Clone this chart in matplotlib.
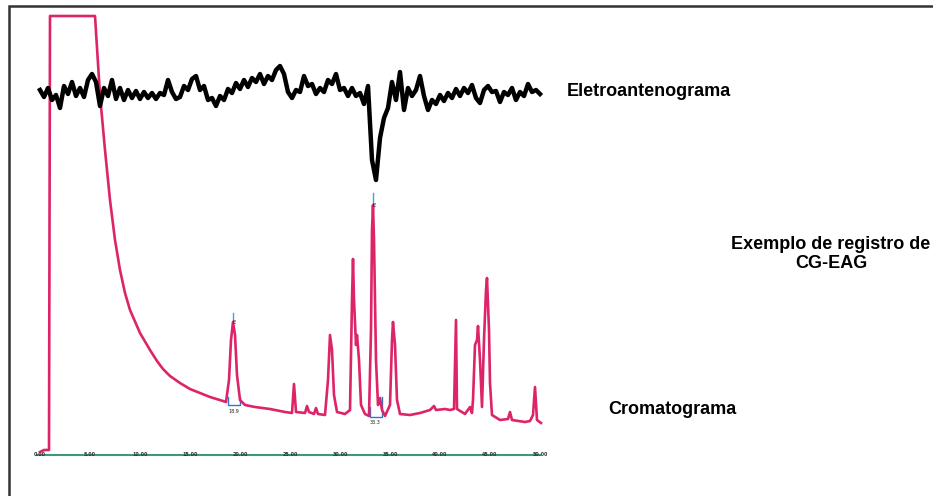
import numpy as np
import matplotlib as mpl
mpl.use('Agg')
import matplotlib.pyplot as plt
from matplotlib.patches import Rectangle

# chromatogram (FID): retention time / min and detector response (arb. units)
gc_time = [0.0, 0.4, 0.9, 1.0, 5.5, 6.0, 6.5, 7.0, 7.5, 8.0, 8.5, 9.0, 10.0, 11.0,
           11.7, 12.3, 13.0, 14.0, 15.0, 16.0, 17.0, 18.3, 18.6, 18.9, 19.1, 19.3,
           19.5, 19.7, 20.0, 20.5,
           21.5, 23.0, 24.5, 25.2, 25.4, 25.6, 26.5, 26.7, 26.9, 27.4, 27.6, 27.8,
           28.5, 28.8, 29.0, 29.2, 29.4, 29.7, 30.5, 31.0, 31.2, 31.3, 31.4, 31.6,
           31.7, 31.9, 32.1, 32.5, 32.9, 33.1, 33.2, 33.3, 33.4, 33.6, 33.8, 34.0,
           34.2, 34.5, 35.0, 35.2, 35.3, 35.5, 35.7, 36.0, 37.0, 38.0, 39.0, 39.4,
           39.6, 40.5, 41.0, 41.4, 41.6, 41.7, 42.5, 43.0, 43.2, 43.3, 43.5, 43.7,
           43.8, 44.0, 44.2, 44.4, 44.6, 44.7, 44.9, 45.0, 45.2, 46.0, 46.8, 47.0,
           47.2, 48.5, 49.0, 49.3, 49.5, 49.7, 50.1]
gc_resp = [3, 5, 5, 439, 439, 360, 305, 255, 215, 185, 162, 145, 122, 105,
           94, 86, 79, 72, 66, 62, 58, 54, 53, 75, 115, 133,
           120, 80, 55, 50,
           48, 46, 43, 42, 71, 43, 42, 49, 43, 41, 47, 41,
           40, 75, 120, 105, 60, 43, 41, 45, 155, 196, 155, 110,
           120, 95, 50, 41, 39, 125, 225, 250, 215, 95, 50, 57,
           45, 39, 50, 115, 133, 110, 55, 41, 40, 42, 45, 49,
           45, 46, 45, 46, 135, 46, 41, 48, 42, 55, 110, 115,
           129, 95, 48, 115, 165, 177, 125, 72, 40, 35, 36, 43,
           35, 33, 34, 40, 68, 35, 32]

# electroantennogram (EAD), sampled every 0.4 min, arb. units
eag_resp = [3, -4, 5, -7, -2, -15, 7, -1, 11, -3,
            5, -4, 13, 19, 11, -13, 5, -3, 13, -6,
            5, -7, 3, -5, 2, -6, 1, -5, 0, -6,
            0, -2, 13, 1, -6, -4, 7, 3, 14, 17,
            3, 7, -7, -5, -13, -3, -7, 4, 0, 10,
            4, 13, 6, 15, 11, 19, 9, 17, 13, 23,
            27, 19, 1, -5, 3, 1, 17, 7, 9, -1,
            5, 1, 13, 9, 19, 3, 5, -3, 5, -3,
            0, -11, 7, -67, -87, -45, -25, -15, 11, -7,
            21, -17, 5, -3, 3, 17, -3, -17, -7, -11,
            -2, -8, 0, -5, 4, -3, 5, 0, 8, -5,
            -10, 3, 7, 1, 2, -9, 1, -2, 5, -7,
            1, -3, 9, 1, 3, -1]
eag_time = 0.4 * np.arange(len(eag_resp))

tick_vals = [0, 5, 10, 15, 20, 25, 30, 35, 40, 45, 50]
tick_labels = ["%.2f" % v for v in tick_vals]

pink = '#DE2468'

fig = plt.figure(figsize=(9.33, 4.96), dpi=100)
ax = fig.add_axes([0, 0, 1, 1])
ax.set_xlim(-4, 89.3)
ax.set_ylim(-41, 455)
ax.axis('off')

# time axis of the recorder
ax.plot([-0.3, 50], [0, 0], color='#3A9A7A', lw=1.5, zorder=1)
for v, lab in zip(tick_vals, tick_labels):
    ax.text(v, 0, lab, fontsize=3.5, color='#333333', ha='center', va='center',
            fontweight='bold', zorder=2)

ax.plot(gc_time, gc_resp, color=pink, lw=1.9, zorder=3, solid_joinstyle='round')

# integration marks
ax.plot([19.3, 19.3], [133, 142], color='#33AADD', lw=1)
ax.plot([18.8, 18.8, 20.0, 20.0], [58, 50, 50, 58], color='#3377CC', lw=1)
ax.text(19.4, 130, "E", fontsize=4, color='#222222', ha='center', va='bottom')
ax.text(19.4, 46, "18.9", fontsize=3.5, color='#222222', ha='center', va='top')
ax.plot([33.3, 33.3], [250, 262], color='#33AADD', lw=1)
ax.text(33.4, 247, "E", fontsize=4, color='#222222', ha='center', va='bottom')
ax.plot([33.0, 33.0, 34.2, 34.2], [48, 38, 38, 58], color='#3377CC', lw=1)
ax.text(33.5, 35, "33.3", fontsize=3.5, color='#222222', ha='center', va='top')

ax2 = ax.twinx()
ax2.set_ylim(-403, 93)
ax2.axis('off')
ax2.plot(eag_time, eag_resp, color='black', lw=3.2, solid_joinstyle='round')

# frame
fig.add_artist(Rectangle((9 / 933, -0.1), 1.2, 1.1 - 6 / 496, transform=fig.transFigure,
                         fill=False, edgecolor='#333333', lw=1.8))

font = dict(family='Liberation Sans', fontweight='bold', fontsize=13, color='black')
fig.text(567 / 933, 1 - 92 / 496, "Eletroantenograma", ha='left', va='center', **font)
fig.text(831 / 933, 1 - 254 / 496, "Exemplo de registro de\nCG-EAG", ha='center',
         va='center', multialignment='center', linespacing=1.12, **font)
fig.text(608 / 933, 1 - 410 / 496, "Cromatograma", ha='left', va='center', **font)

fig.savefig('out.png', dpi=100)
